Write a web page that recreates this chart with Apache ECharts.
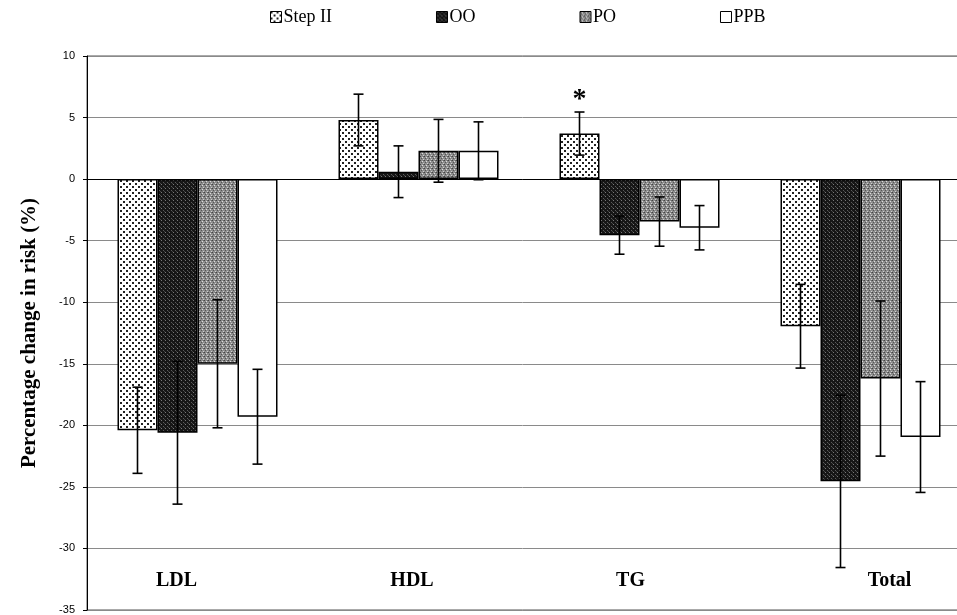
<!DOCTYPE html>
<html><head><meta charset="utf-8">
<script src="https://cdn.jsdelivr.net/npm/echarts@6/dist/echarts.min.js"></script>
<style>html,body{margin:0;padding:0;background:#fff}#c{width:957px;height:615px}</style>
</head><body><div id="c"></div>
<script>
// ---- data ----
const categories = ['LDL', 'HDL', 'TG', 'Total'];
const seriesNames = ['Step II', 'OO', 'PO', 'PPB'];
const stepII = [-20.4, 4.8, 3.7, -11.95];
const stepIIErr = [3.5, 2.1, 1.75, 3.4];
const oo = [-20.6, 0.6, -4.55, -24.55];
const ooErr = [5.8, 2.1, 1.55, 7.0];
const po = [-15.0, 2.3, -3.45, -16.2];
const poErr = [5.2, 2.55, 2.0, 6.3];
const ppb = [-19.3, 2.3, -3.95, -20.95];
const ppbErr = [3.85, 2.35, 1.8, 4.5];
const stepIISig = ['', '', '*', ''];
const noSig = ['', '', '', ''];
const yMin = -35, yMax = 10, yStep = 5;

// ---- fill patterns ----
function tile(w, h, bg, dots) {
  const c = document.createElement('canvas');
  c.width = w; c.height = h;
  const g = c.getContext('2d');
  g.fillStyle = bg; g.fillRect(0, 0, w, h);
  dots.forEach(d => { g.fillStyle = d[4]; g.fillRect(d[0], d[1], d[2], d[3]); });
  return { image: c, repeat: 'repeat' };
}
const fills = [
  tile(6, 6, '#ffffff', [[0, 0, 2, 2, '#222'], [3, 3, 2, 2, '#222']]),
  tile(4, 4, '#161616', [[1, 0, 1, 1, '#777'], [3, 2, 1, 1, '#5a5a5a'], [0, 3, 1, 1, '#444']]),
  tile(4, 4, '#8c8c8c', [[0, 0, 1, 1, '#444'], [2, 1, 1, 1, '#ddd'], [1, 2, 1, 1, '#555'], [3, 3, 1, 1, '#cfcfcf'], [3, 0, 1, 1, '#666']]),
  '#ffffff'
];

const values = [stepII, oo, po, ppb];
const errs = [stepIIErr, ooErr, poErr, ppbErr];
const sigs = [stepIISig, noSig, noSig, noSig];
const barW = 40;

const series = [];
seriesNames.forEach((name, k) => {
  series.push({
    name: name, type: 'bar', xAxisIndex: 0, data: values[k],
    barWidth: barW, barGap: '0%',
    itemStyle: { color: fills[k], borderColor: '#000', borderWidth: 1.5 },
    emphasis: { disabled: true }, z: 2
  });
});
seriesNames.forEach((name, k) => {
  series.push({
    type: 'custom', xAxisIndex: 0, z: 5, silent: true,
    data: categories.map((c, i) => [i, values[k][i], errs[k][i]]),
    renderItem: function (params, api) {
      const ci = api.value(0), v = api.value(1), e = api.value(2);
      const sig = sigs[k][params.dataIndex];
      const x = api.coord([ci, v])[0] + (k - 1.5) * barW;
      const yt = api.coord([ci, v + e])[1];
      const yb = api.coord([ci, v - e])[1];
      const st = { stroke: '#000', lineWidth: 1.6 };
      const ch = [
        { type: 'line', shape: { x1: x, y1: yt, x2: x, y2: yb }, style: st },
        { type: 'line', shape: { x1: x - 5, y1: yt, x2: x + 5, y2: yt }, style: st },
        { type: 'line', shape: { x1: x - 5, y1: yb, x2: x + 5, y2: yb }, style: st }
      ];
      if (sig) ch.push({ type: 'text', style: { text: sig, x: x, y: yt + 2, textAlign: 'center', textVerticalAlign: 'bottom', font: 'bold 28px "Liberation Serif"', fill: '#000' } });
      return { type: 'group', children: ch };
    }
  });
});

const labelShift = { c0: [0, 42, 0, 0], c1: [0, 13, 0, 0], c2: [0, 18, 0, 0], c3: [0, 0, 0, 58] };
const rich = {};
Object.keys(labelShift).forEach(key => {
  rich[key] = { padding: labelShift[key], fontFamily: 'Liberation Serif', fontWeight: 'bold', fontSize: 20, color: '#000' };
});

const chart = echarts.init(document.getElementById('c'), null, { renderer: 'canvas' });
chart.setOption({
  animation: false,
  backgroundColor: '#fff',
  legend: {
    data: seriesNames, top: 3, left: 265, itemGap: 104, itemWidth: 11, itemHeight: 11,
    icon: 'rect', selectedMode: false,
    itemStyle: { borderColor: '#000', borderWidth: 1 },
    textStyle: { fontFamily: 'Liberation Serif', fontSize: 18, color: '#000', padding: [0, 0, 0, -3] }
  },
  grid: { left: 87, top: 56, width: 884, height: 554, outerBoundsMode: 'none', containLabel: false, show: true, borderColor: '#555', borderWidth: 1, backgroundColor: 'transparent' },
  xAxis: [
    { type: 'category', data: categories, position: 'bottom',
      axisLine: { onZero: true, lineStyle: { color: '#000', width: 1 } },
      axisTick: { show: false }, axisLabel: { show: false }, splitLine: { show: false } },
    { type: 'category', data: categories, position: 'bottom',
      axisLine: { show: false, onZero: false }, axisTick: { show: false }, splitLine: { show: false },
      axisLabel: { inside: true, margin: 19, formatter: (v, i) => '{c' + i + '|' + v + '}', rich: rich } }
  ],
  yAxis: {
    type: 'value', min: yMin, max: yMax, interval: yStep,
    name: 'Percentage change in risk (%)', nameLocation: 'middle', nameGap: 47, nameRotate: 90,
    nameTextStyle: { fontFamily: 'Liberation Serif', fontWeight: 'bold', fontSize: 21, color: '#000' },
    axisLine: { show: true, lineStyle: { color: '#000', width: 1 } },
    axisTick: { show: true, length: 4, inside: false, lineStyle: { color: '#000' } },
    axisLabel: { margin: 12, fontFamily: 'Liberation Sans', fontSize: 11, color: '#000' },
    splitLine: { show: true, lineStyle: { color: '#8a8a8a', width: 1 } }
  },
  series: series
});
</script>
</body></html>
